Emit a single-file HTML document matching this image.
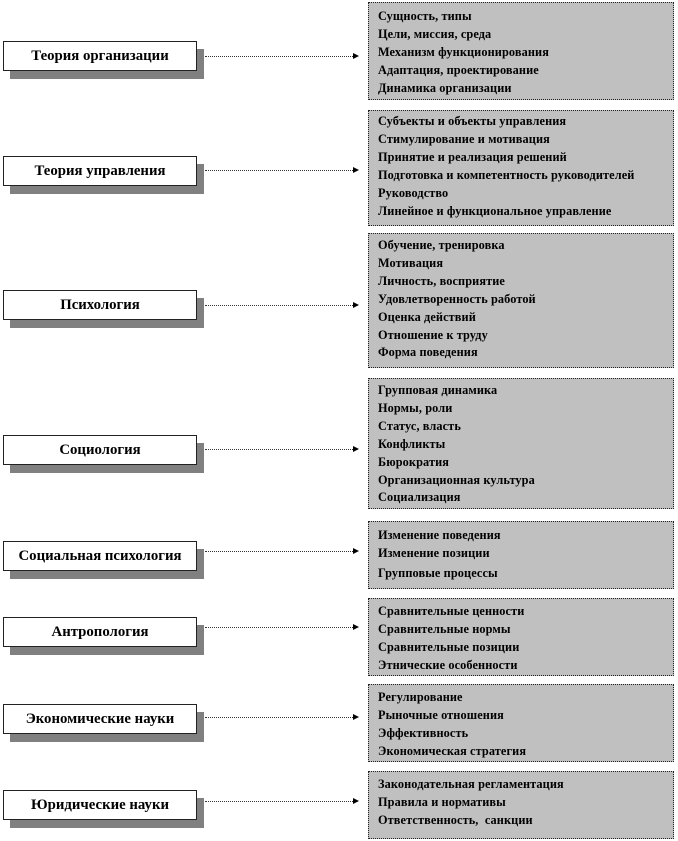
<!DOCTYPE html>
<html><head><meta charset="utf-8"><style>
body{margin:0;width:678px;height:841px;background:#fff;position:relative;font-family:"Liberation Serif",serif;overflow:hidden}
.l{position:absolute;left:3px;width:192px;height:28px;background:#fff;border:1px solid #222;box-shadow:7px 8px 0 #808080;font-weight:bold;font-size:14.8px;text-align:center;line-height:28px;color:#000;white-space:nowrap}
.r{position:absolute;left:368px;width:306px;background:#c0c0c0;border:1px dotted #222;font-weight:bold;font-size:12.3px;letter-spacing:0.1px;line-height:17.9px;color:#000;box-sizing:border-box;padding-left:9px;white-space:nowrap}
.a{position:absolute;left:205px;width:148px;border-top:1px dotted #333;height:0}
.a:after{content:"";position:absolute;right:-6px;top:-4px;border-left:6px solid #000;border-top:3.5px solid transparent;border-bottom:3.5px solid transparent}
</style></head><body>
<div class="l" style="top:41px">Теория организации</div>
<div class="a" style="top:56px"></div>
<div class="r" style="top:2px;height:98px;padding-top:5px">Сущность, типы<br>Цели, миссия, среда<br>Механизм функционирования<br>Адаптация, проектирование<br>Динамика организации</div>

<div class="l" style="top:156px">Теория управления</div>
<div class="a" style="top:170px"></div>
<div class="r" style="top:110px;height:116px;padding-top:2px">Субъекты и объекты управления<br>Стимулирование и мотивация<br>Принятие и реализация решений<br>Подготовка и компетентность руководителей<br>Руководство<br>Линейное и функциональное управление</div>

<div class="l" style="top:290px">Психология</div>
<div class="a" style="top:305px"></div>
<div class="r" style="top:233px;height:135px;padding-top:3px">Обучение, тренировка<br>Мотивация<br>Личность, восприятие<br>Удовлетворенность работой<br>Оценка действий<br>Отношение к труду<br>Форма поведения</div>

<div class="l" style="top:435px">Социология</div>
<div class="a" style="top:449px"></div>
<div class="r" style="top:378px;height:131px;padding-top:3px">Групповая динамика<br>Нормы, роли<br>Статус, власть<br>Конфликты<br>Бюрократия<br>Организационная культура<br>Социализация</div>

<div class="l" style="top:541px">Социальная психология</div>
<div class="a" style="top:551px"></div>
<div class="r" style="top:521px;height:68px;padding-top:5px">Изменение поведения<br>Изменение позиции<br><span style="display:block;margin-top:2px">Групповые процессы</span></div>

<div class="l" style="top:617px">Антропология</div>
<div class="a" style="top:627px"></div>
<div class="r" style="top:598px;height:78px;padding-top:4px">Сравнительные ценности<br>Сравнительные нормы<br>Сравнительные позиции<br>Этнические особенности</div>

<div class="l" style="top:704px">Экономические науки</div>
<div class="a" style="top:717px"></div>
<div class="r" style="top:684px;height:78px;padding-top:4px">Регулирование<br>Рыночные отношения<br>Эффективность<br>Экономическая стратегия</div>

<div class="l" style="top:790px">Юридические науки</div>
<div class="a" style="top:801px"></div>
<div class="r" style="top:771px;height:68px;padding-top:4px">Законодательная регламентация<br>Правила и нормативы<br>Ответственность,&nbsp; санкции</div>
</body></html>
